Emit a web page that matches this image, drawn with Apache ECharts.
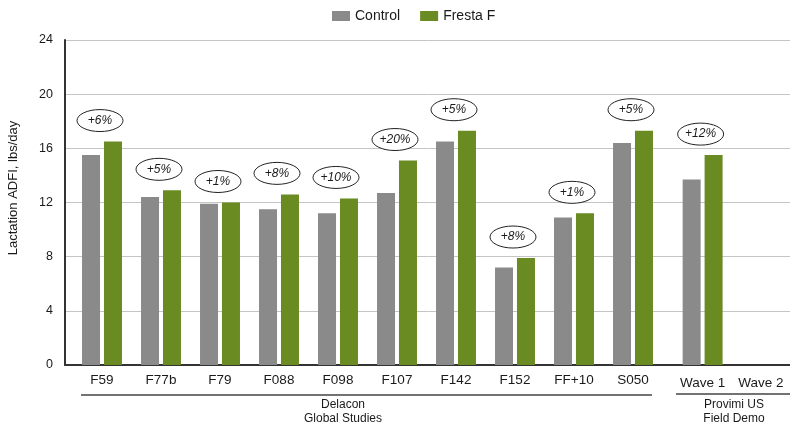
<!DOCTYPE html>
<html>
<head>
<meta charset="utf-8">
<script src="https://cdn.jsdelivr.net/npm/echarts@6/dist/echarts.min.js"></script>
<style>
  html, body { margin: 0; padding: 0; background: #fff; }
  #chart { width: 790px; height: 425px; }
</style>
</head>
<body>
<div id="chart"></div>
<script>
// data
var categories = ['F59', 'F77b', 'F79', 'F088', 'F098', 'F107', 'F142', 'F152', 'FF+10', 'S050', 'Wave 1', 'Wave 2'];
var controlValues = [15.5, 12.4, 11.9, 11.5, 11.2, 12.7, 16.5, 7.2, 10.9, 16.4, 13.7, null];
var frestaValues = [16.5, 12.9, 12.0, 12.6, 12.3, 15.1, 17.3, 7.9, 11.2, 17.3, 15.5, null];
var gains = ['+6%', '+5%', '+1%', '+8%', '+10%', '+20%', '+5%', '+8%', '+1%', '+5%', '+12%', ''];
var yTicks = [0, 4, 8, 12, 16, 20, 24];
var delaconCount = 10;  // first 10 are Delacon studies, the rest Provimi field demo

var fontFamily = '"Liberation Sans", Arial, Helvetica, sans-serif';
var grayColor = '#8a8a8a';
var greenColor = '#6a8a22';
var textColor = '#1a1a1a';

var chartDom = document.getElementById('chart');
var myChart = echarts.init(chartDom);

function gainRenderer(offset) {
  return function (params, api) {
    var i = params.dataIndex + offset;
    if (!gains[i] || frestaValues[i] == null) {
      return;
    }
    var pt = api.coord([api.value(0), api.value(1)]);
    var cx = pt[0] - 2;
    var cy = pt[1] - 21;
    return {
      type: 'group',
      children: [
        {
          type: 'ellipse',
          shape: { cx: cx, cy: cy, rx: 23, ry: 11 },
          style: { fill: '#fff', stroke: '#222', lineWidth: 1 }
        },
        {
          type: 'text',
          x: cx,
          y: cy,
          style: {
            text: gains[i],
            fontStyle: 'italic',
            fontSize: 12,
            fontFamily: fontFamily,
            fill: textColor,
            align: 'center',
            verticalAlign: 'middle'
          }
        }
      ]
    };
  };
}

function gainData(from, to) {
  var arr = [];
  for (var i = from; i < to; i = i + 1) {
    arr.push([categories[i], frestaValues[i]]);
  }
  return arr;
}

var hiddenY = { type: 'value', min: 0, max: 24, show: false };

var option = {
  animation: false,
  textStyle: { fontFamily: fontFamily },
  legend: {
    left: 327,
    top: 4,
    itemWidth: 18,
    itemHeight: 10,
    itemGap: 20,
    icon: 'rect',
    data: ['Control', 'Fresta F'],
    textStyle: { fontSize: 14, color: textColor, fontFamily: fontFamily }
  },
  grid: [
    { left: 65, right: 0, top: 40, bottom: 60 },
    { left: 72.5, width: 590, top: 40, bottom: 60 },
    { left: 673.5, width: 122, top: 40, bottom: 60 }
  ],
  xAxis: [
    {
      gridIndex: 0,
      type: 'category',
      data: [''],
      axisLine: { lineStyle: { color: '#333', width: 2 } },
      axisTick: { show: false },
      axisLabel: { show: false }
    },
    {
      gridIndex: 1,
      type: 'category',
      data: categories.slice(0, delaconCount),
      axisLine: { show: false },
      axisTick: { show: false },
      axisLabel: { margin: 8, fontSize: 13.5, color: textColor, interval: 0 }
    },
    {
      gridIndex: 2,
      type: 'category',
      data: categories.slice(delaconCount),
      axisLine: { show: false },
      axisTick: { show: false },
      axisLabel: { margin: 11, fontSize: 13.5, color: textColor, interval: 0 }
    }
  ],
  yAxis: [
    {
      gridIndex: 0,
      type: 'value',
      min: yTicks[0],
      max: yTicks[yTicks.length - 1],
      interval: 4,
      axisLine: { show: true, lineStyle: { color: '#333', width: 2 } },
      axisTick: { show: false },
      axisLabel: { fontSize: 12.5, color: textColor, margin: 12 },
      splitLine: { lineStyle: { color: '#c4c4c4', width: 1 } }
    },
    Object.assign({ gridIndex: 1 }, hiddenY),
    Object.assign({ gridIndex: 2 }, hiddenY)
  ],
  graphic: [
    {
      type: 'text',
      x: 13,
      y: 188,
      rotation: Math.PI / 2,
      style: {
        text: 'Lactation ADFI, lbs/day',
        fontSize: 13,
        fontFamily: fontFamily,
        fill: textColor,
        align: 'center',
        verticalAlign: 'middle'
      }
    },
    {
      type: 'line',
      shape: { x1: 81, y1: 395, x2: 652, y2: 395 },
      style: { stroke: '#444', lineWidth: 1.5 }
    },
    {
      type: 'line',
      shape: { x1: 676, y1: 394, x2: 790, y2: 394 },
      style: { stroke: '#444', lineWidth: 1.5 }
    },
    {
      type: 'text',
      x: 343,
      y: 412,
      style: {
        text: 'Delacon\nGlobal Studies',
        fontSize: 12,
        lineHeight: 14,
        fontFamily: fontFamily,
        fill: textColor,
        align: 'center',
        verticalAlign: 'middle'
      }
    },
    {
      type: 'text',
      x: 734,
      y: 412,
      style: {
        text: 'Provimi US\nField Demo',
        fontSize: 12,
        lineHeight: 14,
        fontFamily: fontFamily,
        fill: textColor,
        align: 'center',
        verticalAlign: 'middle'
      }
    }
  ],
  series: [
    {
      name: 'Control',
      type: 'bar',
      xAxisIndex: 1,
      yAxisIndex: 1,
      barWidth: 18,
      barGap: '22%',
      itemStyle: { color: grayColor },
      data: controlValues.slice(0, delaconCount)
    },
    {
      name: 'Fresta F',
      type: 'bar',
      xAxisIndex: 1,
      yAxisIndex: 1,
      barWidth: 18,
      barGap: '22%',
      itemStyle: { color: greenColor },
      data: frestaValues.slice(0, delaconCount)
    },
    {
      name: 'Control',
      type: 'bar',
      xAxisIndex: 2,
      yAxisIndex: 2,
      barWidth: 18,
      barGap: '22%',
      itemStyle: { color: grayColor },
      data: controlValues.slice(delaconCount)
    },
    {
      name: 'Fresta F',
      type: 'bar',
      xAxisIndex: 2,
      yAxisIndex: 2,
      barWidth: 18,
      barGap: '22%',
      itemStyle: { color: greenColor },
      data: frestaValues.slice(delaconCount)
    },
    {
      type: 'custom',
      xAxisIndex: 1,
      yAxisIndex: 1,
      z: 10,
      renderItem: gainRenderer(0),
      data: gainData(0, delaconCount)
    },
    {
      type: 'custom',
      xAxisIndex: 2,
      yAxisIndex: 2,
      z: 10,
      renderItem: gainRenderer(delaconCount),
      data: gainData(delaconCount, categories.length)
    }
  ]
};

option && myChart.setOption(option);
</script>
</body>
</html>
